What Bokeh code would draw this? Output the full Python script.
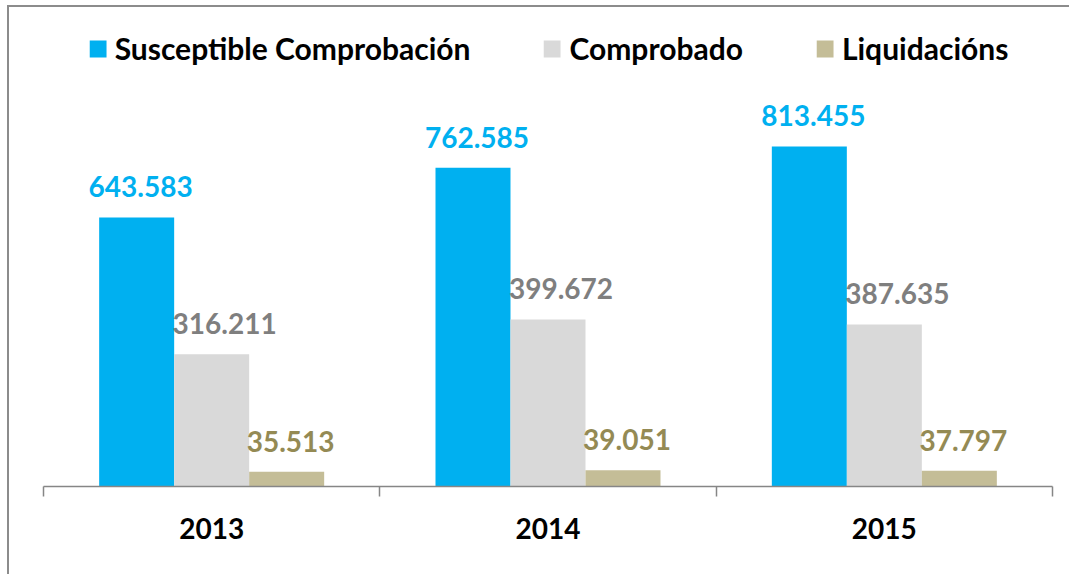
from bokeh.plotting import figure
from bokeh.models import (ColumnDataSource, Range1d, LinearAxis, FixedTicker,
                          LabelSet, Legend, LegendItem)
from bokeh.core.properties import value
from bokeh.transform import dodge
from bokeh.embed import file_html
from bokeh.resources import INLINE

# ---- data ----
years = ["2013", "2014", "2015"]
series_names = ["Susceptible Comprobación", "Comprobado", "Liquidacións"]
susceptible = [643583, 762585, 813455]
comprobado = [316211, 399672, 387635]
liquidacions = [35513, 39051, 37797]

bar_colors = ["#00B0F0", "#D9D9D9", "#C4BD97"]
label_colors = ["#00B0F0", "#7F7F7F", "#948A54"]
FONT = "Lato"


def fmt(v):
    return f"{v:,}".replace(",", ".")


centers = [i + 0.5 for i in range(len(years))]
src = ColumnDataSource(dict(
    xc=centers,
    s0=susceptible, s1=comprobado, s2=liquidacions,
    t0=[fmt(v) for v in susceptible],
    t1=[fmt(v) for v in comprobado],
    t2=[fmt(v) for v in liquidacions],
))

p = figure(
    width=1062, height=569,
    x_range=Range1d(0, len(years)),
    y_range=Range1d(0, 1119690),
    output_backend="svg", toolbar_location=None,
    x_axis_location=None, y_axis_location=None,
    min_border_left=34, min_border_right=19, min_border_top=11, min_border_bottom=90,
)
p.outline_line_color = None
p.xgrid.grid_line_color = None
p.ygrid.grid_line_color = None
p.background_fill_color = "white"
p.border_fill_color = "white"
p.styles = {"border-left": "2px solid #8c8c8c", "border-top": "2px solid #8c8c8c",
            "margin-left": "7px", "margin-top": "5px"}

# axis: category labels centred, ticks at category boundaries
ax = LinearAxis(
    ticker=FixedTicker(ticks=centers, minor_ticks=list(range(len(years) + 1))),
    major_label_overrides={c: y for c, y in zip(centers, years)},
)
ax.axis_line_color = "#868686"
ax.axis_line_width = 1.5
ax.major_tick_line_color = None
ax.major_tick_out = 0
ax.major_tick_in = 0
ax.minor_tick_line_color = "#868686"
ax.minor_tick_line_width = 1.5
ax.minor_tick_out = 10
ax.minor_tick_in = 0
ax.major_label_text_font = FONT
ax.major_label_text_font_style = "bold"
ax.major_label_text_font_size = "28px"
ax.major_label_text_color = "black"
ax.major_label_standoff = 21
p.add_layout(ax, "below")

bw = 0.223
offsets = [-bw, 0.0, bw]
x_shift = [4, 13, 4]
items = []
for k in range(3):
    r = p.vbar(x=dodge("xc", offsets[k]), top=f"s{k}", width=bw,
               source=src, fill_color=bar_colors[k], line_color=None)
    items.append(LegendItem(label=series_names[k], renderers=[r]))
    lab = LabelSet(x=dodge("xc", offsets[k]), y=f"s{k}", text=f"t{k}",
                   source=src, text_align="center", text_baseline="alphabetic",
                   x_offset=x_shift[k], y_offset=20,
                   text_font=value(FONT), text_font_style="bold", text_font_size="28px",
                   text_color=label_colors[k])
    p.add_layout(lab)

legend = Legend(items=items, orientation="horizontal", location="top_center")
legend.border_line_color = None
legend.background_fill_alpha = 0
legend.margin = 12
legend.padding = 0
legend.spacing = 71
legend.glyph_width = 21
legend.glyph_height = 21
legend.label_standoff = 7
legend.label_text_font = FONT
legend.label_text_font_style = "bold"
legend.label_text_font_size = "30px"
legend.label_text_color = "black"
p.add_layout(legend, "center")

open("out.html", "w").write(file_html(p, INLINE))
